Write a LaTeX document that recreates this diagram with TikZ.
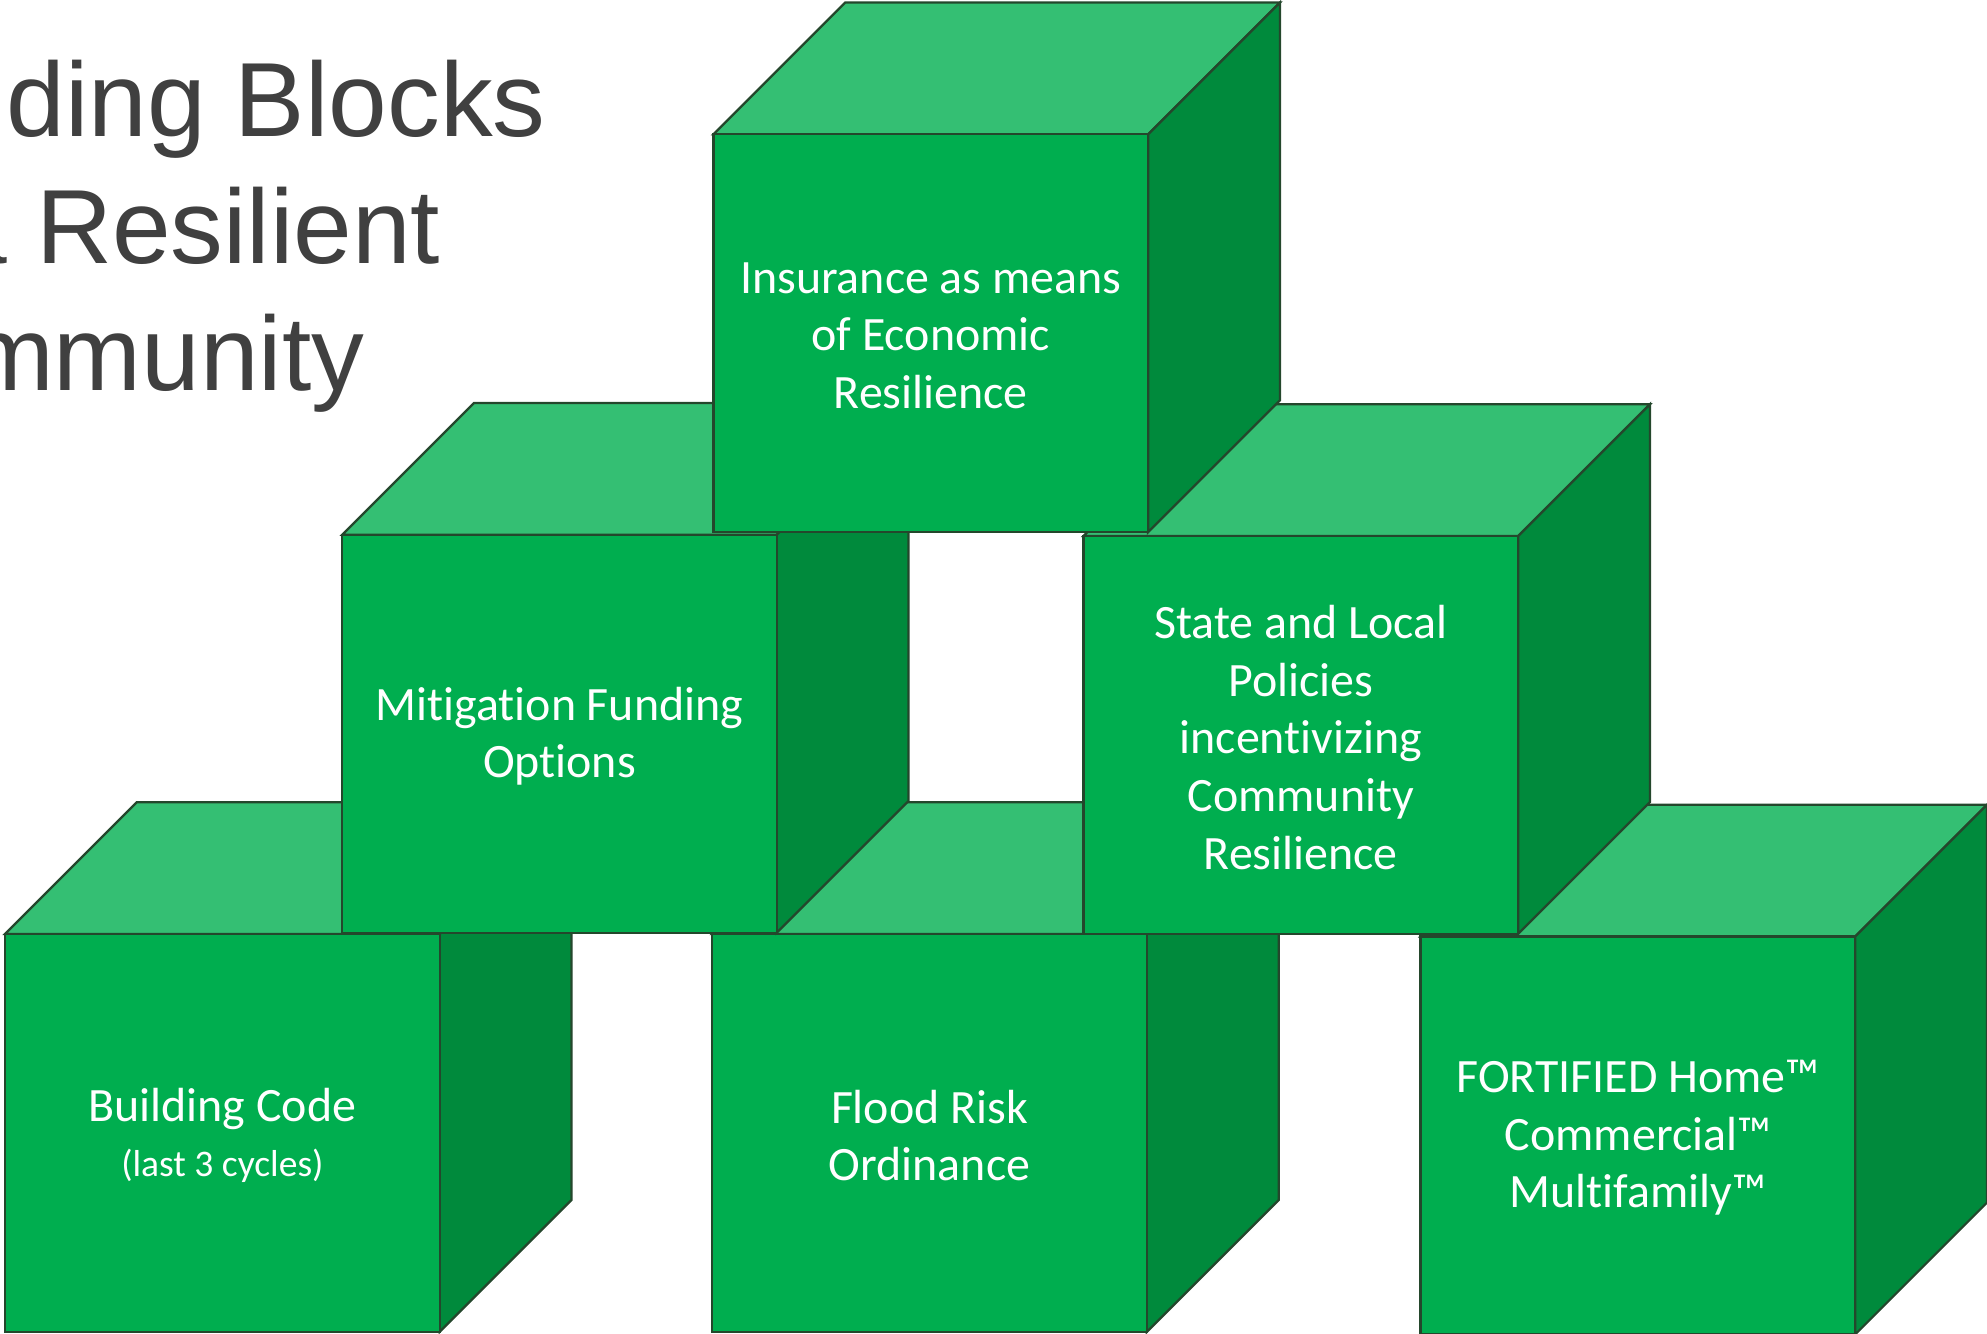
\documentclass[tikz,border=0pt]{standalone}
\usepackage{fontspec}
\setmainfont{Carlito}[Ligatures=NoCommon]
\newfontfamily\headfont{Liberation Sans}
\definecolor{frontgreen}{HTML}{00AE4F}
\definecolor{topgreen}{HTML}{34BF73}
\definecolor{sidegreen}{HTML}{008A3C}
\definecolor{edgegreen}{HTML}{24472C}
\definecolor{headgray}{HTML}{404040}

% one block: #1 node name, #2/#3 top-left corner of the front face, #4 label
\newcommand{\blockcube}[4]{%
  \filldraw[topside] (#2,#3) -- ++(104,-104) -- ++(343,0) -- ++(-104,104) -- cycle;
  \filldraw[rightside] ({#2+343},#3) -- ++(104,-104) -- ++(0,314) -- ++(-104,104) -- cycle;
  \filldraw[frontside] (#2,#3) rectangle ++(343,314);
  \node[blocklabel] (#1) at ({#2+171.5},{#3+159}) {#4};
}

\begin{document}
\begin{tikzpicture}[x=0.5pt,y=-0.5pt,
  topside/.style={fill=topgreen,draw=edgegreen,line width=0.9pt,line join=miter},
  rightside/.style={fill=sidegreen,draw=edgegreen,line width=0.9pt,line join=miter},
  frontside/.style={fill=frontgreen,draw=edgegreen,line width=0.9pt},
  blocklabel/.style={text=white,align=center,inner sep=0pt,
    font=\fontsize{18.9}{22.7}\selectfont},
  headline/.style={text=headgray,inner sep=0pt,anchor=base east,
    font=\headfont\fontsize{41.6}{50}\selectfont}]
\useasboundingbox (0,0) rectangle (1568,1052);
\clip (0,0) rectangle (1568,1052);

% heading, running off the left edge
\node[headline] (head1) at (431,108) {ding Blocks};
\node[headline] (head2) at (348,208) {a Resilient};
\node[headline] (head3) at (288,308) {mmunity};

% bottom row
\blockcube{bcode}{4}{737}{Building Code\\[-1pt]{\fontsize{14.8}{17}\selectfont(last 3 cycles)}}
\blockcube{flood}{562}{737}{Flood Risk\\Ordinance}
\blockcube{fortified}{1121}{739}{FORTIFIED Home™\\Commercial™\\Multifamily™}

% middle row
\blockcube{mitig}{270}{422}{Mitigation Funding\\Options}
\blockcube{policy}{855}{423}{State and Local\\Policies\\incentivizing\\Community\\Resilience}

% top
\blockcube{insur}{563}{106}{Insurance as means\\of Economic\\Resilience}
\end{tikzpicture}
\end{document}
